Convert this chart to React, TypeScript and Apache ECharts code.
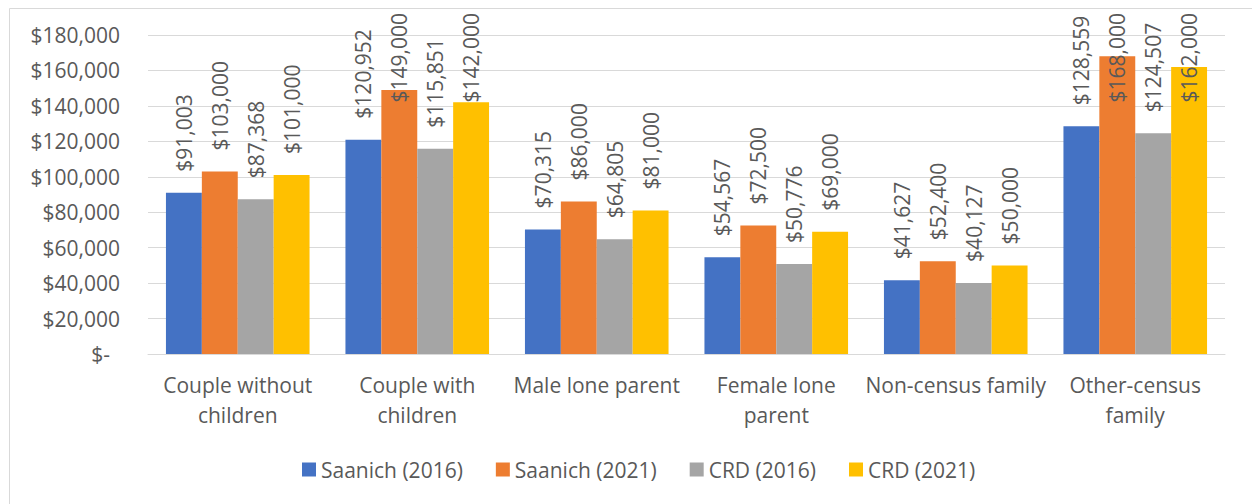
import React, { useEffect, useRef } from "react";
import * as echarts from "echarts";

const categories = [
  "Couple without\nchildren",
  "Couple with\nchildren",
  "Male lone parent",
  "Female lone\nparent",
  "Non-census family",
  "Other-census\nfamily",
];
const seriesNames = ["Saanich (2016)", "Saanich (2021)", "CRD (2016)", "CRD (2021)"];
const saanich2016 = [91003, 120952, 70315, 54567, 41627, 128559];
const saanich2021 = [103000, 149000, 86000, 72500, 52400, 168000];
const crd2016 = [87368, 115851, 64805, 50776, 40127, 124507];
const crd2021 = [101000, 142000, 81000, 69000, 50000, 162000];
const colors = ["#4472C4", "#ED7D31", "#A5A5A5", "#FFC000"];

const FONT = "'Open Sans', 'Noto Sans', sans-serif";
const TEXT = "#595959";
const FS = 21;

const fmt = (v: number) => "$" + v.toLocaleString("en-US");

export default function App() {
  const ref = useRef<HTMLDivElement>(null);
  useEffect(() => {
    document.body.style.margin = "0";
    const chart = echarts.init(ref.current!, null, { renderer: "svg" });
    const allData = [saanich2016, saanich2021, crd2016, crd2021];
    chart.setOption({
      animation: false,
      backgroundColor: "#ffffff",
      graphic: [
        {
          type: "rect",
          left: 7,
          top: 6,
          shape: { width: 1300, height: 600 },
          style: { fill: "none", stroke: "#D9D9D9", lineWidth: 1 },
          silent: true,
        },
      ],
      grid: { left: 148, right: 27, top: 35, bottom: 150, containLabel: false },
      legend: {
        top: 454,
        left: 297,
        icon: "rect",
        itemWidth: 14,
        itemHeight: 14,
        itemGap: 33,
        data: seriesNames,
        textStyle: { color: TEXT, fontSize: FS, fontFamily: FONT },
      },
      xAxis: {
        type: "category",
        data: categories,
        axisTick: { show: false },
        axisLine: { lineStyle: { color: "#D9D9D9", width: 1 } },
        axisLabel: {
          color: TEXT,
          fontSize: FS,
          fontFamily: FONT,
          lineHeight: 30,
          margin: 16,
          interval: 0,
        },
      },
      yAxis: {
        type: "value",
        min: 0,
        max: 180000,
        interval: 20000,
        axisLine: { show: false },
        axisTick: { show: false },
        splitLine: { lineStyle: { color: "#D9D9D9", width: 1 } },
        axisLabel: {
          color: TEXT,
          fontSize: FS,
          fontFamily: FONT,
          margin: 28,
          formatter: (v: number) => (v === 0 ? "{z|$-}" : fmt(v)),
          rich: {
            z: { color: TEXT, fontSize: FS, fontFamily: FONT, padding: [0, 10, 0, 0] },
          },
        },
      },
      series: seriesNames.map((name, i) => ({
        name,
        type: "bar",
        data: allData[i],
        barGap: "0%",
        barCategoryGap: "20%",
        itemStyle: { color: colors[i] },
        label: {
          show: true,
          position: "top",
          distance: 21,
          rotate: 90,
          align: "left",
          verticalAlign: "middle",
          color: TEXT,
          fontSize: FS,
          fontFamily: FONT,
          formatter: (p: any) => fmt(p.value),
        },
        labelLayout: (p: any) =>
          p.labelRect && p.labelRect.y < 13 ? { dx: p.labelRect.y - 13 } : {},
      })),
    });
    return () => chart.dispose();
  }, []);
  return <div ref={ref} style={{ width: 1252, height: 504 }} />;
}
